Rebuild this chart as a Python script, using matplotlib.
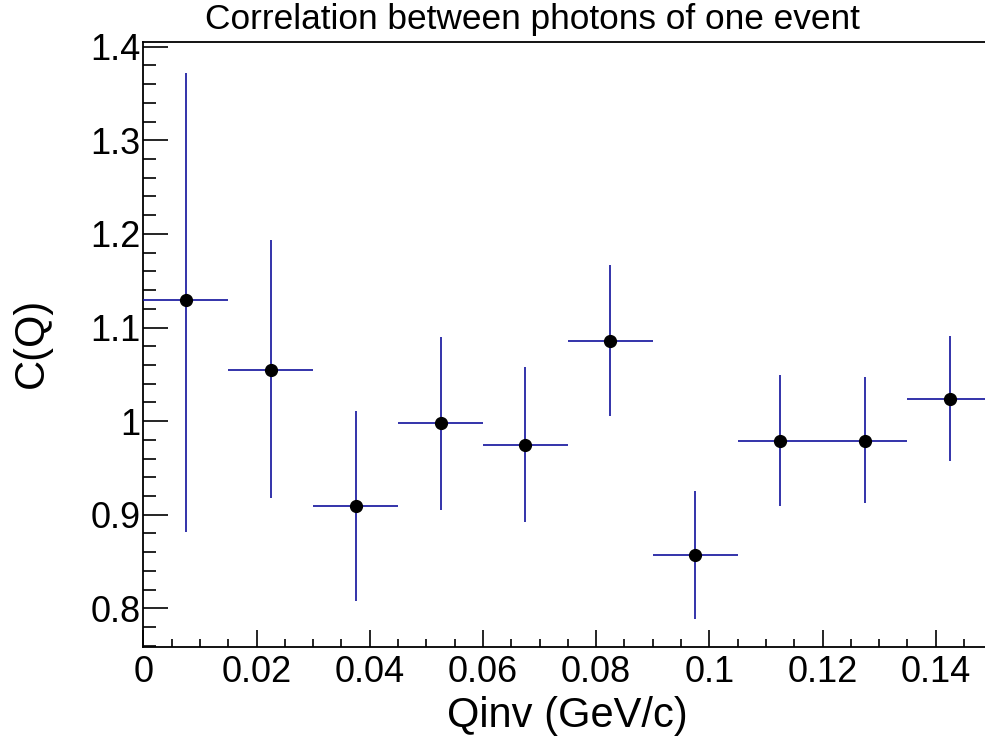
import matplotlib

matplotlib.use('Agg')
import matplotlib.pyplot as plt
from matplotlib.ticker import MultipleLocator
import numpy as np

plt.rcParams['font.family'] = ['Liberation Sans', 'DejaVu Sans']

# Bin centres and half widths (GeV/c)
qinv = [0.0075, 0.0225, 0.0375, 0.0525, 0.0675, 0.0825, 0.0975, 0.1125, 0.1275, 0.1425]
half_width = [0.0075] * 10
# Correlation values and their errors
corr = [1.129, 1.055, 0.909, 0.998, 0.975, 1.086, 0.857, 0.979, 0.979, 1.024]
err_up = [0.243, 0.138, 0.102, 0.092, 0.083, 0.081, 0.068, 0.070, 0.068, 0.067]
err_down = [0.247, 0.137, 0.101, 0.093, 0.083, 0.080, 0.068, 0.070, 0.066, 0.067]

fig = plt.figure(figsize=(9.85, 7.38), dpi=100)
ax = fig.add_axes([143.4 / 985, 1 - 647 / 738, (985 - 143.4) / 985, (647 - 42) / 738])

ax.errorbar(qinv, corr, xerr=half_width, yerr=[err_down, err_up],
            fmt='o', color='black', markersize=8.5,
            ecolor='#10109c', elinewidth=1.2, capsize=0, zorder=3)

ax.set_xlim(0, 0.1487)
ax.set_ylim(0.7587, 1.405)

ax.spines['right'].set_visible(False)
for s in ['left', 'bottom', 'top']:
    ax.spines[s].set_linewidth(1.3)

ax.xaxis.set_major_locator(MultipleLocator(0.02))
ax.xaxis.set_minor_locator(MultipleLocator(0.005))
ax.yaxis.set_major_locator(MultipleLocator(0.1))
ax.yaxis.set_minor_locator(MultipleLocator(0.02))
ax.xaxis.set_major_formatter(plt.FuncFormatter(lambda v, p: f'{v:g}'))
ax.yaxis.set_major_formatter(plt.FuncFormatter(lambda v, p: f'{v:g}'))

ax.tick_params(axis='x', which='major', direction='in', length=12, width=1.2, labelsize=26, pad=6, top=False)
ax.tick_params(axis='x', which='minor', direction='in', length=6, width=1.2, top=False)
ax.tick_params(axis='y', which='major', direction='in', length=18, width=1.2, labelsize=26, pad=2, right=False)
ax.tick_params(axis='y', which='minor', direction='in', length=9, width=1.2, right=False)

fig.text(532 / 985, 1 - 20 / 738, 'Correlation between photons of one event',
         ha='center', va='center', fontsize=25.4)
fig.text(567 / 985, 1 - 716 / 738, 'Qinv (GeV/c)', ha='center', va='center', fontsize=30)
fig.text(32 / 985, 1 - 343 / 738, 'C(Q)', ha='center', va='center', rotation=90, fontsize=30)

fig.savefig('out.png', dpi=100)
